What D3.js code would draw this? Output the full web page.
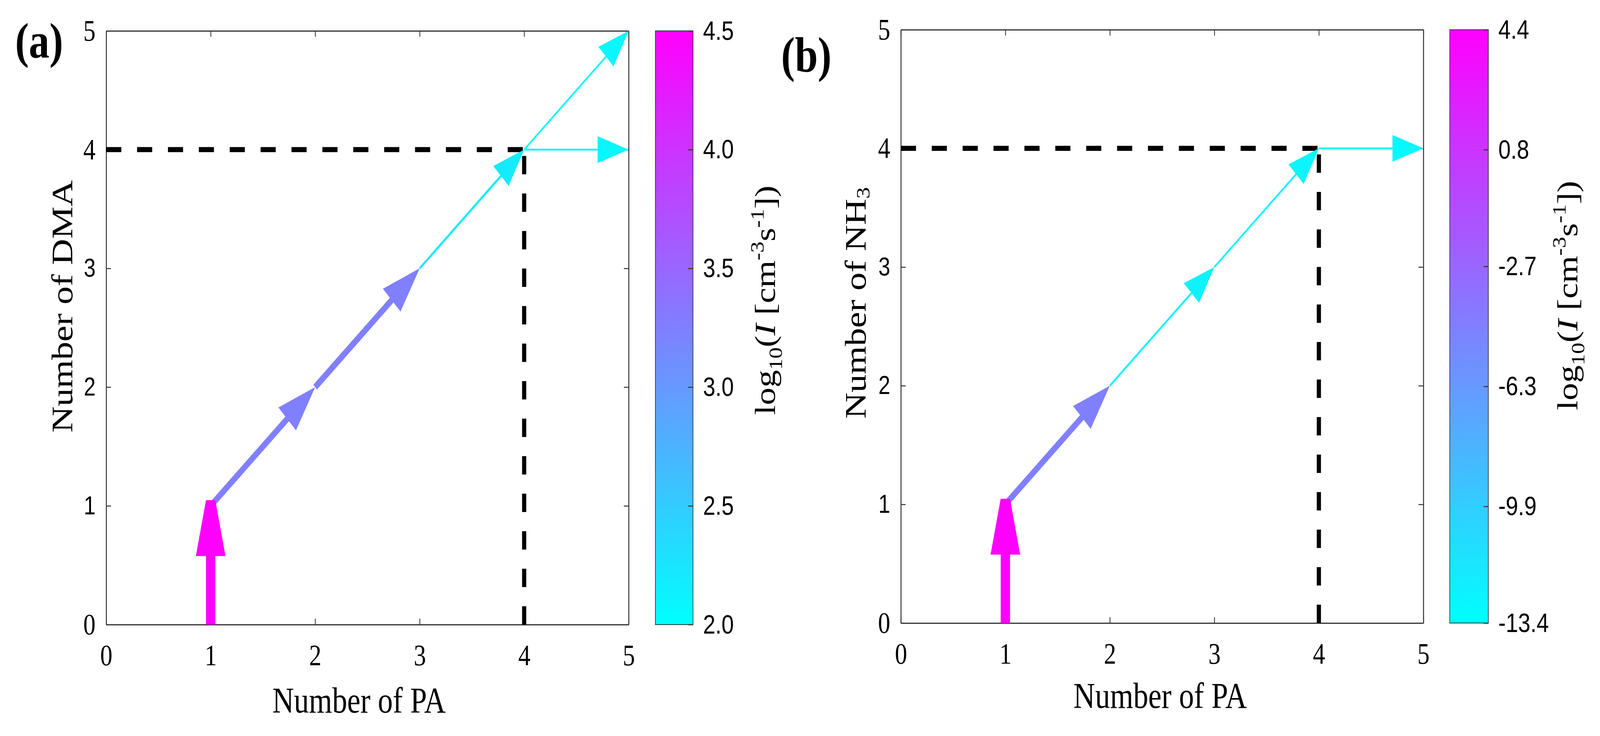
<!DOCTYPE html>
<html>
<head>
<meta charset="utf-8">
<script src="https://cdn.jsdelivr.net/npm/d3@7"></script>
<style>
  html, body { margin: 0; padding: 0; background: #fff; overflow: hidden; }
  svg { display: block; width: 100vw; height: 100vh; }
</style>
</head>
<body>
<svg id="chart" viewBox="0 0 4973 1883" preserveAspectRatio="none"></svg>
<script>
// ---- data ----
const axisTicks = [0, 1, 2, 3, 4, 5];
const sansYTicks = [1, 2, 3];          // these y labels are set in a sans face in the figure

// panel (a): PA + DMA growth steps, coloured by log10(J)
const stepStartA = [[1, 0], [1, 1], [2, 2], [3, 3], [4, 4], [4, 4]];
const stepEndA   = [[1, 1], [2, 2], [3, 3], [4, 4], [5, 5], [5, 4]];
const logJA      = [4.5, 3.25, 3.25, 2.2, 2.08, 2.08];
const cbRangeA   = [2.0, 4.5];
const cbTicksA   = [2.0, 2.5, 3.0, 3.5, 4.0, 4.5];
const guideA     = [4, 4];

// panel (b): PA + NH3 growth steps
const stepStartB = [[1, 0], [1, 1], [2, 2], [3, 3], [4, 4]];
const stepEndB   = [[1, 1], [2, 2], [3, 3], [4, 4], [5, 4]];
const logJB      = [4.4, -4.5, -12.5, -12.7, -13.0];
const cbRangeB   = [-13.4, 4.4];
const cbTicksB   = [-13.4, -9.9, -6.3, -2.7, 0.8, 4.4];
const guideB     = [4, 4];

const serif = '"Times New Roman", "Liberation Serif", serif';
const sans = 'Arial, "Liberation Sans", sans-serif';
const axisColor = "#333";

const svg = d3.select("#chart");
const defs = svg.append("defs");

// MATLAB "cool" colormap
const cool = d3.interpolateRgb("#00ffff", "#ff00ff");

// arrow geometry driven by normalised rate
const shaftW = d3.scaleLinear().domain([0, 1]).range([4, 29]);
const headL = d3.scaleLinear().domain([0, 1]).range([95, 143]);
const headW = d3.scaleLinear().domain([0, 1]).range([68, 92]);
const tipW = d3.scaleLinear().domain([0.6, 1]).range([0, 29]).clamp(true);

function drawPanel(cfg) {
    const g = svg.append("g");

    const x = d3.scaleLinear().domain([0, 5]).range([cfg.left, cfg.right]);
    const y = d3.scaleLinear().domain([0, 5]).range([cfg.bottom, cfg.top]);
    const norm = d3.scaleLinear().domain(cfg.cbRange).range([0, 1]).clamp(true);

    // axes (box with inward ticks)
    const xAxis = g.append("g")
        .attr("transform", `translate(0, ${cfg.bottom})`)
        .call(d3.axisBottom(x).tickValues(axisTicks).tickFormat(d3.format("d"))
            .tickSize(-15).tickSizeOuter(0).tickPadding(50));
    xAxis.selectAll("text")
        .attr("font-family", serif)
        .attr("font-size", 76);

    const yAxis = g.append("g")
        .attr("transform", `translate(${cfg.left}, 0)`)
        .call(d3.axisLeft(y).tickValues(axisTicks).tickFormat(d3.format("d"))
            .tickSize(-15).tickSizeOuter(0).tickPadding(33));
    yAxis.selectAll("text")
        .attr("font-family", d => sansYTicks.includes(d) ? sans : serif)
        .attr("font-size", d => sansYTicks.includes(d) ? 66 : 76);

    g.append("g")
        .attr("transform", `translate(0, ${cfg.top})`)
        .call(d3.axisTop(x).tickValues(axisTicks).tickSize(-15).tickSizeOuter(0).tickFormat(() => ""));
    g.append("g")
        .attr("transform", `translate(${cfg.right}, 0)`)
        .call(d3.axisRight(y).tickValues(axisTicks).tickSize(-15).tickSizeOuter(0).tickFormat(() => ""));

    g.selectAll(".domain").attr("stroke", axisColor).attr("stroke-width", 3);
    g.selectAll(".tick line").attr("stroke", axisColor).attr("stroke-width", 2.5);

    // dashed guides to the critical cluster
    const guide = g.append("g")
        .attr("stroke", "#000")
        .attr("stroke-width", 13)
        .attr("stroke-dasharray", "47,49")
        .attr("fill", "none");
    guide.append("line")
        .attr("x1", x(0)).attr("y1", y(cfg.guide[1]))
        .attr("x2", x(cfg.guide[0])).attr("y2", y(cfg.guide[1]));
    guide.append("line")
        .attr("x1", x(cfg.guide[0])).attr("y1", y(0))
        .attr("x2", x(cfg.guide[0])).attr("y2", y(cfg.guide[1]));

    // growth arrows (drawn back to front so the first step sits on top)
    const steps = cfg.start.map((s, i) => ({from: s, to: cfg.end[i], v: cfg.logJ[i]})).reverse();
    steps.forEach(st => {
        const t = norm(st.v);
        const col = cool(t);
        const ax = x(st.from[0]), ay = y(st.from[1]);
        const bx = x(st.to[0]), by = y(st.to[1]);
        const len = Math.hypot(bx - ax, by - ay);
        const ux = (bx - ax) / len, uy = (by - ay) / len;
        const nx = -uy, ny = ux;
        const w = shaftW(t), L = headL(t), W = headW(t), tw = tipW(t);
        const tx = bx + ux * tw / 2, ty = by + uy * tw / 2;
        const baseX = tx - ux * L, baseY = ty - uy * L;

        g.append("line")
            .attr("x1", ax).attr("y1", ay)
            .attr("x2", baseX + ux * 4).attr("y2", baseY + uy * 4)
            .attr("stroke", col)
            .attr("stroke-width", w);

        const head = [
            [tx + nx * tw / 2, ty + ny * tw / 2],
            [tx - nx * tw / 2, ty - ny * tw / 2],
            [baseX - nx * W / 2, baseY - ny * W / 2],
            [baseX + nx * W / 2, baseY + ny * W / 2]
        ];
        g.append("polygon")
            .attr("points", head.map(p => p.join(",")).join(" "))
            .attr("fill", col);
    });

    // colorbar
    const cb = d3.scaleLinear().domain(cfg.cbRange).range([cfg.bottom, cfg.top]);
    const grad = defs.append("linearGradient")
        .attr("id", cfg.id)
        .attr("x1", 0).attr("y1", 1).attr("x2", 0).attr("y2", 0);
    grad.selectAll("stop")
        .data(cfg.cbTicks)
        .enter()
        .append("stop")
        .attr("offset", d => norm(d))
        .attr("stop-color", d => cool(norm(d)));

    g.append("rect")
        .attr("x", cfg.cbLeft)
        .attr("y", cfg.top)
        .attr("width", cfg.cbRight - cfg.cbLeft)
        .attr("height", cfg.bottom - cfg.top)
        .attr("fill", `url(#${cfg.id})`)
        .attr("stroke", axisColor)
        .attr("stroke-width", 2);

    // plain hyphen for negatives, as in the figure
    const cbAxis = g.append("g")
        .attr("transform", `translate(${cfg.cbRight}, 0)`)
        .call(d3.axisRight(cb).tickValues(cfg.cbTicks).tickFormat(d => d.toFixed(1))
            .tickSize(-15).tickSizeOuter(0).tickPadding(31));
    cbAxis.select(".domain").remove();
    cbAxis.selectAll(".tick line").attr("stroke", axisColor).attr("stroke-width", 2.5);
    cbAxis.selectAll("text")
        .attr("font-family", sans)
        .attr("font-size", 69);

    // panel tag
    g.append("text")
        .attr("x", cfg.tagX)
        .attr("y", cfg.tagY)
        .attr("font-family", serif)
        .attr("font-weight", "bold")
        .attr("font-size", 128)
        .text(cfg.tag);

    // x label
    g.append("text")
        .attr("x", cfg.xLabelX)
        .attr("y", cfg.xLabelY)
        .attr("text-anchor", "middle")
        .attr("font-family", serif)
        .attr("font-size", 93)
        .text("Number of PA");

    // y label
    const yl = g.append("text")
        .attr("transform", `translate(${cfg.yLabelX}, ${cfg.yLabelY}) rotate(-90)`)
        .attr("text-anchor", "middle")
        .attr("font-family", serif)
        .attr("font-size", 93);
    yl.append("tspan").text(cfg.yLabel);
    if (cfg.yLabelSub) {
        yl.append("tspan").attr("dy", "0.22em").attr("font-size", 60).text(cfg.yLabelSub);
    }

    // colorbar label
    const cl = g.append("text")
        .attr("transform", `translate(${cfg.cbLabelX}, ${cfg.cbLabelY}) rotate(-90)`)
        .attr("text-anchor", "middle")
        .attr("font-family", serif)
        .attr("font-size", 90);
    cl.append("tspan").text("log");
    cl.append("tspan").attr("dy", 22).attr("font-size", 58).text("10");
    cl.append("tspan").attr("dy", -22).text("(");
    cl.append("tspan").attr("font-style", "italic").text("I");
    cl.append("tspan").text(" [cm");
    cl.append("tspan").attr("dy", -36).attr("font-size", 58).text("-3");
    cl.append("tspan").attr("dy", 36).text("s");
    cl.append("tspan").attr("dy", -36).attr("font-size", 58).text("-1");
    cl.append("tspan").attr("dy", 36).text("])");
}

drawPanel({
    id: "cbA",
    left: 330, right: 1954, top: 79, bottom: 1598,
    cbLeft: 2037, cbRight: 2154,
    start: stepStartA, end: stepEndA, logJ: logJA,
    cbRange: cbRangeA, cbTicks: cbTicksA, guide: guideA,
    tag: "(a)", tagX: 47, tagY: 147,
    xLabelX: 1116, xLabelY: 1823,
    yLabel: "Number of DMA", yLabelX: 225, yLabelY: 784,
    cbLabelX: 2409, cbLabelY: 768
});

drawPanel({
    id: "cbB",
    left: 2800, right: 4424, top: 76, bottom: 1594,
    cbLeft: 4506, cbRight: 4626,
    start: stepStartB, end: stepEndB, logJ: logJB,
    cbRange: cbRangeB, cbTicks: cbTicksB, guide: guideB,
    tag: "(b)", tagX: 2428, tagY: 183,
    xLabelX: 3606, xLabelY: 1811,
    yLabel: "Number of NH", yLabelSub: "3", yLabelX: 2690, yLabelY: 775,
    cbLabelX: 4902, cbLabelY: 756
});
</script>
</body>
</html>
